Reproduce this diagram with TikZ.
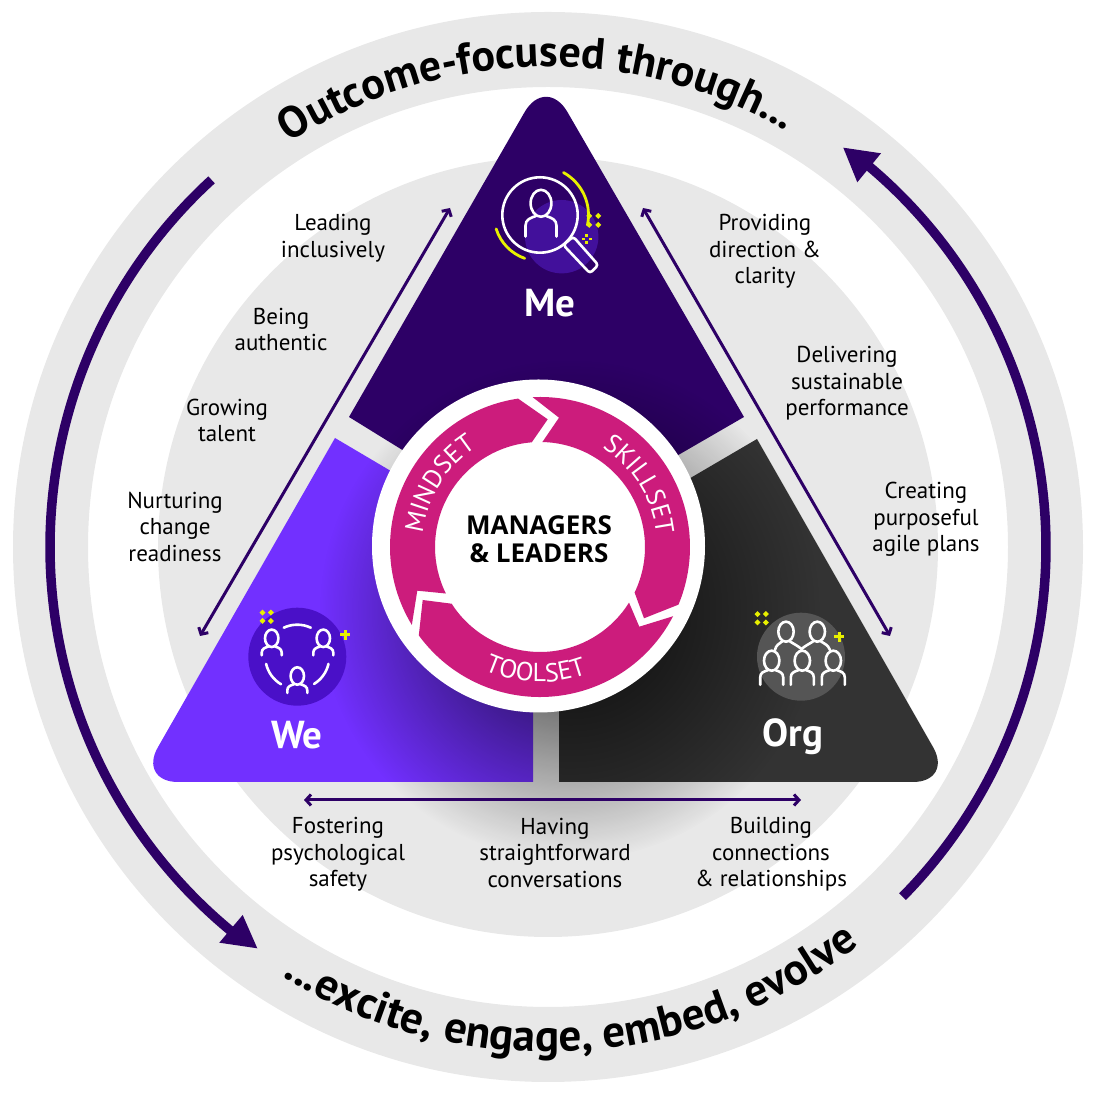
\documentclass[tikz,border=0pt]{standalone}
\usepackage{xcolor}
\usepackage{fontspec}
\setmainfont{PT Sans}
\newfontfamily\hubfont{Open Sans}
\usetikzlibrary{arrows.meta,decorations.text,fadings}

\definecolor{meviolet}{HTML}{2D0066}
\definecolor{wepurple}{HTML}{7230FF}
\definecolor{orgdark}{HTML}{333333}
\definecolor{ringpink}{HTML}{CC1C7C}
\definecolor{ringgrey}{HTML}{E8E8E8}
\definecolor{starlime}{HTML}{E8F000}
\definecolor{meblob}{HTML}{42109B}
\definecolor{wedisc}{HTML}{4A10C8}
\definecolor{orgdisc}{HTML}{555555}

\newcommand{\labelfont}{\fontsize{23}{26.5}\selectfont}
\newcommand{\toptitlefont}{\bfseries\fontsize{44}{44}\selectfont}
\newcommand{\titlefont}{\bfseries\fontsize{45}{45}\selectfont}
\newcommand{\ringfont}{\color{white}\fontsize{26}{26}\selectfont}

\tikzfading[name=shadowfade,inner color=transparent!20,outer color=transparent!100]

\tikzset{
  rimlabel/.style={align=center,font=\labelfont,text=black},
  cornerlabel/.style={font=\bfseries\fontsize{39}{39}\selectfont,text=white},
  iconline/.style={draw=white,line width=2.6,line cap=round},
  limearc/.style={draw=starlime,line width=2.8,line cap=round},
  thinarrow/.style={draw=meviolet,line width=3,{Straight Barb[length=5pt,width=11pt]}-{Straight Barb[length=5pt,width=11pt]}},
  bigarrow/.style={draw=meviolet,line width=9.5}
}

\newcommand{\person}[4]{%
  \begin{scope}[shift={(#1,#2)},scale=#3]
    \draw[iconline] (0,0) ellipse[x radius=6.7,y radius=8.7];
    \draw[iconline] (-10,#4) -- (-10,-14.5) .. controls (-10,-10.5) and (-7,-9.5) .. (-3.5,-8.3);
    \draw[iconline] (10,#4) -- (10,-14.5) .. controls (10,-10.5) and (7,-9.5) .. (3.5,-8.3);
  \end{scope}}
\newcommand{\sparkle}[5]{%
  \begin{scope}[shift={(#1,#2)},rotate=#4]
    \foreach \dx/\dy in {-1/-1,-1/1,1/-1,1/1}
      \fill[starlime] (\dx*#3+#5,\dy*#3) -- (\dx*#3,\dy*#3+#5) -- (\dx*#3-#5,\dy*#3) -- (\dx*#3,\dy*#3-#5) -- cycle;
  \end{scope}}
\newcommand{\limeplus}[2]{%
  \draw[starlime,line width=3] (#1-5,#2) -- (#1+5,#2) (#1,#2-5) -- (#1,#2+5);}

\begin{document}
\begin{tikzpicture}[x=1pt,y=1pt]
  \useasboundingbox (0,0) rectangle (1096,1095);

  % rings
  \fill[ringgrey,even odd rule] (548,548) circle[radius=535] (548,548) circle[radius=460];
  \fill[ringgrey] (548,548) circle[radius=390];

  % triangles
  \fill[meviolet] (349,678) [rounded corners=43pt] -- (546,1020) [sharp corners] -- (744,678) -- (540,560) -- cycle;
  \fill[wepurple] (335,657) [rounded corners=40pt] -- (138,313) [sharp corners] -- (533,313) -- (533,540) -- cycle;
  \fill[orgdark] (757,656) -- (559,540) -- (559,313) [rounded corners=40pt] -- (953,313) [sharp corners] -- cycle;

  % shadow of the hub
  \fill[black,path fading=shadowfade] (570,485) circle[radius=250];

  % big arrows
  \draw[bigarrow] (548,548) ++(132.5:498) arc[start angle=132.5,end angle=231,radius=498];
  \fill[meviolet] (257.3,146.7) -- (242.7,180) -- (219.3,152.3) -- cycle;
  \draw[bigarrow] (548,548) ++(-44.6:498) arc[start angle=-44.6,end angle=50.5,radius=498];
  \fill[meviolet] (843.3,947.3) -- (881,941.7) -- (857.3,912.7) -- cycle;

  % curved titles
  \path[decorate,decoration={text along path,text align=center,
    text={|\toptitlefont|Outcome-focused through...}}]
    (548,548) ++(136.7:480) arc[start angle=136.7,end angle=46.2,radius=480];
  \path[decorate,decoration={text along path,text align=center,
    text={|\titlefont|...excite, engage, embed, evolve}}]
    (548,548) ++(218.2:505) arc[start angle=218.2,end angle=328.2,radius=505];

  % hub
  \fill[white] (538.5,549) circle[radius=166.5];
  \begin{scope}[shift={(540,548)}]
    \fill[ringpink] (211.3:150) arc[start angle=211.3,end angle=98.4,radius=150] -- (7.7,127.7) -- (94.5:105) arc[start angle=94.5,end angle=206.3,radius=105] -- (-122.7,-43.7) -- cycle;
    \fill[ringpink] (92.8:150) arc[start angle=92.8,end angle=-22.6,radius=150] -- (104,-71.3) -- (-25.7:105) arc[start angle=-25.7,end angle=88.7,radius=105] -- (19,129.3) -- cycle;
    \fill[ringpink] (-27.5:150) arc[start angle=-27.5,end angle=-143.9,radius=150] -- (-117.3,-53) -- (212.7:105) arc[start angle=212.7,end angle=328,radius=105] -- (99.3,-79.7) -- cycle;
    \path[decorate,decoration={text along path,text align=center,text={|\ringfont|MINDSET}}]
      (188:118) arc[start angle=188,end angle=108,radius=118];
    \path[decorate,decoration={text along path,text align=center,text={|\ringfont|SKILLSET}}]
      (72:117) arc[start angle=72,end angle=-8,radius=117];
    \path[decorate,decoration={text along path,text align=center,text={|\ringfont|TOOLSET}}]
      (228:135) arc[start angle=228,end angle=308,radius=135];
  \end{scope}
  \node[align=center,font=\hubfont\bfseries\fontsize{26}{28}\selectfont] (hub) at (539,556) {MANAGERS\\\& LEADERS};

  % Me icon
  \fill[meblob] (561.7,858.3) circle[radius=36.7];
  \draw[iconline] (540,880) circle[radius=37.7];
  \draw[iconline,rounded corners=3pt] (563.3,850) -- (573.3,858.3) -- (598.3,830) -- (590,821.7) -- cycle;
  \person{541}{891.7}{1.55}{-21.5}
  \draw[limearc] (540,880) ++(61:48.5) arc[start angle=61,end angle=-12,radius=48.5];
  \draw[limearc] (540,880) ++(197.6:46) arc[start angle=197.6,end angle=250.6,radius=46];
  \sparkle{593.8}{874.6}{4.5}{0}{3}
  \sparkle{586.7}{856}{2.4}{45}{2}

  % We icon
  \fill[wedisc] (297.3,438.3) circle[radius=49];
  \person{271.7}{456.7}{1}{-17}
  \person{323.3}{456.7}{1}{-17}
  \person{297.3}{419}{1}{-17}
  \draw[iconline] (297.3,438.3) ++(65:32) arc[start angle=65,end angle=115,radius=32];
  \draw[iconline] (297.3,438.3) ++(193:32) arc[start angle=193,end angle=239.4,radius=32];
  \draw[iconline] (297.3,438.3) ++(-13:32) arc[start angle=-13,end angle=-58.4,radius=32];
  \sparkle{266.7}{478.2}{4.2}{0}{3}
  \limeplus{345}{460}

  % Org icon
  \fill[orgdisc] (801,438.3) circle[radius=44];
  \person{771.7}{434.3}{1.15}{-21}
  \person{802.3}{434.3}{1.15}{-21}
  \person{833.3}{434.3}{1.15}{-21}
  \draw[iconline] (786,463.3) ellipse[x radius=7.7,y radius=10];
  \draw[iconline] (817.3,463.3) ellipse[x radius=7.7,y radius=10];
  \draw[iconline] (775,445) .. controls (776,450) and (779,451) .. (782,453.5);
  \draw[iconline] (790,453.5) .. controls (794,451) and (798,449) .. (801.5,446);
  \draw[iconline] (813,453.5) .. controls (809,451) and (805,449) .. (801.5,446);
  \draw[iconline] (821,453.5) .. controls (825,451) and (828,450) .. (830,445);
  \sparkle{761.7}{476.7}{4.2}{0}{3}
  \limeplus{839.3}{458.3}

  % corner names
  \node[cornerlabel] (me) at (550,792) {Me};
  \node[cornerlabel] (we) at (297,360) {We};
  \node[cornerlabel] (org) at (793,358) {Org};

  % thin arrows
  \coordinate (leftTop) at (450,887);
  \coordinate (leftBot) at (200,459);
  \coordinate (rightTop) at (643,887);
  \coordinate (rightBot) at (890,459);
  \coordinate (botLeft) at (304,295);
  \coordinate (botRight) at (801,295);
  \draw[thinarrow] (leftTop) -- (leftBot);
  \draw[thinarrow] (rightTop) -- (rightBot);
  \draw[thinarrow] (botLeft) -- (botRight);

  % labels
  \node[rimlabel] (leading) at (333,857) {Leading\\inclusively};
  \node[rimlabel] (being) at (281,765.5) {Being\\authentic};
  \node[rimlabel] (growing) at (227,674.5) {Growing\\talent};
  \node[rimlabel] (nurturing) at (175,568.5) {Nurturing\\change\\readiness};
  \node[rimlabel] (providing) at (765,843.5) {Providing\\direction \&\\clarity};
  \node[rimlabel] (delivering) at (847,711.5) {Delivering\\sustainable\\performance};
  \node[rimlabel] (creating) at (926,575.5) {Creating\\purposeful\\agile plans};
  \node[rimlabel] (fostering) at (338,240.5) {Fostering\\psychological\\safety};
  \node[rimlabel] (having) at (555,242) {Having\\straightforward\\conversations};
  \node[rimlabel] (building) at (771,240.5) {Building\\connections\\\& relationships};
\end{tikzpicture}
\end{document}
